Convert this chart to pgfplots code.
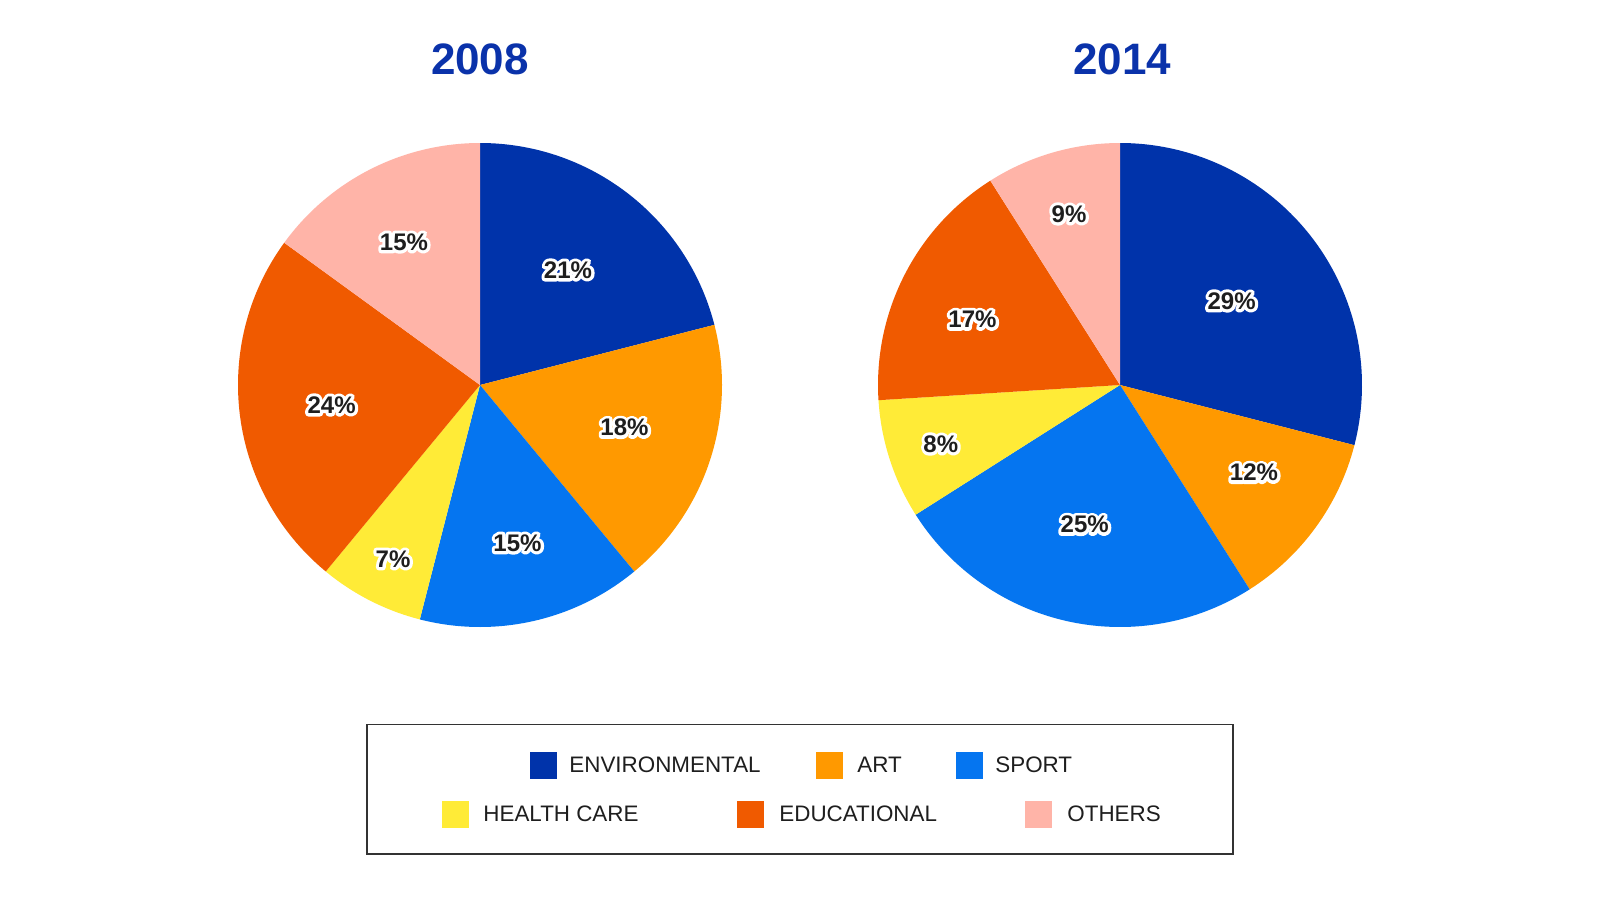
\documentclass[border=0pt]{standalone}
\usepackage{pgfplots}
\pgfplotsset{compat=1.18}
\usepackage{fontspec}
\setmainfont{Liberation Sans}
\definecolor{cEnv}{RGB}{0,51,170}
\definecolor{cArt}{RGB}{255,153,0}
\definecolor{cSport}{RGB}{5,117,240}
\definecolor{cHealth}{RGB}{255,235,55}
\definecolor{cEdu}{RGB}{240,90,0}
\definecolor{cOth}{RGB}{255,180,168}
\definecolor{cTitle}{RGB}{10,50,170}
\definecolor{cLab}{RGB}{30,30,30}
% white halo drawn as a stroked copy, then the dark text on top
\newcommand\outlined[1]{%
\rlap{\special{pdf:literal direct q 2 Tr 1 1 1 rg 1 1 1 RG 3.2 w 1 j}#1\special{pdf:literal direct Q}}#1}
% slice: colour, centre, cumulative start %, cumulative end %
\newcommand\slice[4]{\fill[#1] (axis cs:#2) -- ++({90-3.6*#3}:121pt) arc[start angle={90-3.6*#3}, end angle={90-3.6*#4}, radius=121pt] -- cycle;}
\newcommand\plab[3]{\node[inner sep=0pt,text=cLab,font=\fontsize{12}{14}\selectfont\bfseries] at (axis cs:#1,#2) {\outlined{#3}};}
\newcommand\legitem[4]{%
\fill[#1] (axis cs:#2,751.5) rectangle (axis cs:{#2+27},778.5);
\node[anchor=west,inner sep=0pt,text=cLab,font=\fontsize{11.2}{13}\selectfont] at (axis cs:#3,765) {#4};}
\newcommand\legitemb[4]{%
\fill[#1] (axis cs:#2,800.5) rectangle (axis cs:{#2+27},827.5);
\node[anchor=west,inner sep=0pt,text=cLab,font=\fontsize{11.2}{13}\selectfont] at (axis cs:#3,814) {#4};}
\begin{document}
\begin{tikzpicture}
\begin{axis}[width=800pt,height=450pt,scale only axis,hide axis,
  xmin=0,xmax=1600,ymin=0,ymax=900,y dir=reverse,clip=false]
\fill[white] (axis cs:0,0) rectangle (axis cs:1600,900);
% 2008: ENV 21, ART 18, SPORT 15, HEALTH 7, EDU 24, OTHERS 15
\slice{cEnv}{480,385}{0}{21}
\slice{cArt}{480,385}{21}{39}
\slice{cSport}{480,385}{39}{54}
\slice{cHealth}{480,385}{54}{61}
\slice{cEdu}{480,385}{61}{85}
\slice{cOth}{480,385}{85}{100}
% 2014: ENV 29, ART 12, SPORT 25, HEALTH 8, EDU 17, OTHERS 9
\slice{cEnv}{1120,385}{0}{29}
\slice{cArt}{1120,385}{29}{41}
\slice{cSport}{1120,385}{41}{66}
\slice{cHealth}{1120,385}{66}{74}
\slice{cEdu}{1120,385}{74}{91}
\slice{cOth}{1120,385}{91}{100}
% labels
\plab{568}{270}{21\%}
\plab{624.5}{427.5}{18\%}
\plab{517.5}{543}{15\%}
\plab{393}{559}{7\%}
\plab{331.6}{405}{24\%}
\plab{404}{242}{15\%}
\plab{1231.6}{301}{29\%}
\plab{1254}{472.5}{12\%}
\plab{1084.7}{524.5}{25\%}
\plab{940.8}{444}{8\%}
\plab{972.5}{319.4}{17\%}
\plab{1069}{214}{9\%}
% titles
\node[text=cTitle,font=\fontsize{22}{26}\selectfont\bfseries,inner sep=0pt] at (axis cs:480,59) {2008};
\node[text=cTitle,font=\fontsize{22}{26}\selectfont\bfseries,inner sep=0pt] at (axis cs:1122,59) {2014};
% legend
\draw[line width=0.8pt,draw=black!80] (axis cs:367,724.5) rectangle (axis cs:1233,854);
\legitem{cEnv}{530}{569}{ENVIRONMENTAL}
\legitem{cArt}{816}{857}{ART}
\legitem{cSport}{956}{995}{SPORT}
\legitemb{cHealth}{442}{483}{HEALTH CARE}
\legitemb{cEdu}{737}{779}{EDUCATIONAL}
\legitemb{cOth}{1025}{1067}{OTHERS}
\end{axis}
\end{tikzpicture}
\end{document}
